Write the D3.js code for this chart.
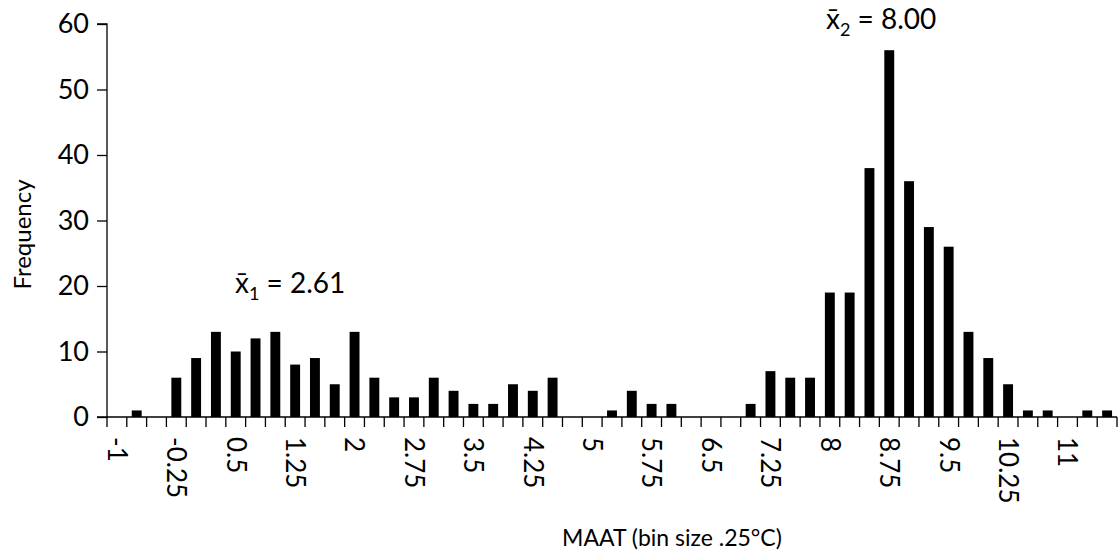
<!DOCTYPE html>
<html>
<head>
<meta charset="utf-8">
<script src="https://cdn.jsdelivr.net/npm/d3@7"></script>
<style>
  body { margin: 0; background: #fff; }
  svg text { font-family: Lato, "Liberation Sans", sans-serif; fill: #000; }
</style>
</head>
<body>
<svg id="chart" width="1120" height="556"></svg>
<script>
// bin starts (°C), bin size .25
const bins = d3.range(51).map(i => -1 + i * 0.25);
const counts = [
  0, 1, 0, 6, 9, 13, 10, 12, 13, 8, 9, 5, 13, 6, 3, 3, 6, 4, 2, 2, 5, 4, 6,
  0, 0, 1, 4, 2, 2, 0, 0, 0, 2, 7, 6, 6, 19, 19, 38, 56, 36, 29, 26, 13, 9, 5,
  1, 1, 0, 1, 1
];
const yTicks = [0, 10, 20, 30, 40, 50, 60];
const means = [
  { label: "1", text: " = 2.61", x: 235, y: 293 },
  { label: "2", text: " = 8.00", x: 826, y: 29 }
];

const svg = d3.select("#chart");
const mLeft = 107, mRight = 1117, mTop = 24, mBottom = 417;

const x = d3.scaleBand()
  .domain(bins)
  .range([mLeft, mRight])
  .paddingInner(0.5)
  .paddingOuter(0.25);
// width of one bin, for the boundary ticks
const step = (mRight - mLeft) / bins.length;

const y = d3.scaleLinear().domain([0, 60]).range([mBottom, mTop]);

// bars
svg.append("g")
  .selectAll("rect")
  .data(bins)
  .join("rect")
  .attr("x", d => x(d))
  .attr("width", x.bandwidth())
  .attr("y", (d, i) => y(counts[i]))
  .attr("height", (d, i) => y(0) - y(counts[i]))
  .attr("fill", "#000");

// y axis
const yAxis = svg.append("g")
  .attr("transform", `translate(${mLeft},0)`)
  .call(d3.axisLeft(y).tickValues(yTicks).tickSize(10).tickPadding(8));
yAxis.select(".domain").attr("stroke", "#000").attr("stroke-width", 1.3)
  .attr("d", `M-10,${mTop}H0V${mBottom}H-10`);
yAxis.selectAll(".tick line").attr("stroke", "#000").attr("stroke-width", 1.3);
yAxis.selectAll(".tick text").style("font-size", "27px");

// x axis: line, ticks at bin boundaries, labels every third bin
const xAxis = svg.append("g");
xAxis.append("line")
  .attr("x1", mLeft).attr("x2", mRight)
  .attr("y1", mBottom).attr("y2", mBottom)
  .attr("stroke", "#000").attr("stroke-width", 1.3);
xAxis.selectAll("line.tick")
  .data(d3.range(bins.length + 1))
  .join("line")
  .attr("class", "tick")
  .attr("x1", i => mLeft + i * step).attr("x2", i => mLeft + i * step)
  .attr("y1", mBottom).attr("y2", mBottom + 10)
  .attr("stroke", "#000").attr("stroke-width", 1.3);
xAxis.selectAll("text")
  .data(bins.filter((d, i) => i % 3 === 0))
  .join("text")
  .attr("transform", d => `translate(${x(d) + x.bandwidth() / 2},${mBottom + 20}) rotate(90)`)
  .attr("dy", "0.35em")
  .style("font-size", "26px")
  .text(d => String(d));

// axis titles
svg.append("text")
  .attr("transform", `translate(31,${(mTop + mBottom) / 2 + 14}) rotate(-90)`)
  .attr("text-anchor", "middle")
  .style("font-size", "24px")
  .text("Frequency");

svg.append("text")
  .attr("x", 672).attr("y", 546)
  .attr("text-anchor", "middle")
  .style("font-size", "23px")
  .text("MAAT (bin size .25\u00B0C)");

// mean annotations
means.forEach(m => {
  const t = svg.append("text")
    .attr("x", m.x).attr("y", m.y)
    .style("font-size", "28px");
  t.append("tspan").text("x\u0304");
  t.append("tspan").attr("dy", 7).style("font-size", "18px").text(m.label);
  t.append("tspan").attr("dy", -7).text(m.text);
});
</script>
</body>
</html>
